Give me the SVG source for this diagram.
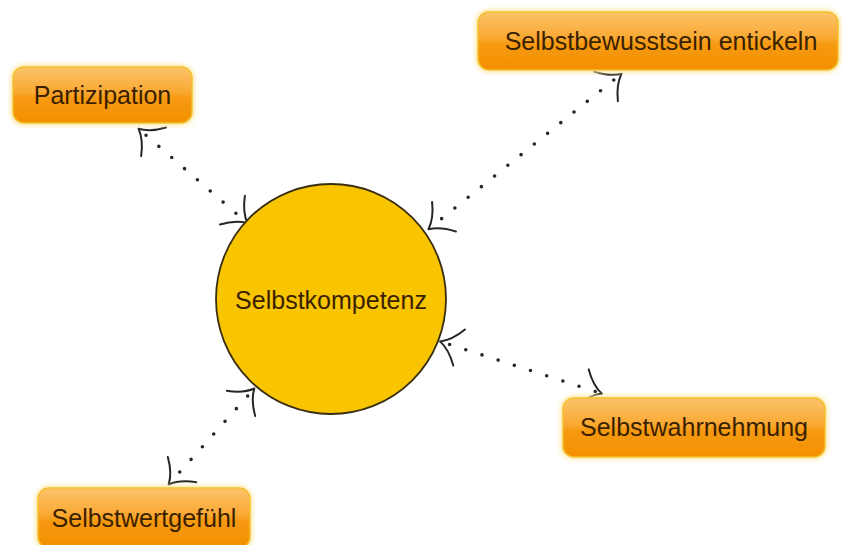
<svg xmlns="http://www.w3.org/2000/svg" width="842" height="545" viewBox="0 0 842 545">
  <defs>
    <linearGradient id="boxFill" x1="0" y1="0" x2="0" y2="1">
      <stop offset="0" stop-color="#fcc36a"/>
      <stop offset="0.45" stop-color="#f9a832"/>
      <stop offset="0.55" stop-color="#f69a12"/>
      <stop offset="1" stop-color="#f39000"/>
    </linearGradient>
    <filter id="glow" x="-10%" y="-20%" width="120%" height="140%">
      <feGaussianBlur stdDeviation="2"/>
    </filter>
    <!-- open, slightly curved arrowhead used at both ends of each link -->
    <marker id="head" markerUnits="userSpaceOnUse" viewBox="-22 -22 26 44" refX="0" refY="0"
            markerWidth="26" markerHeight="44" orient="auto-start-reverse">
      <path d="M2,0 Q-9,-5 -18,-19 M2,0 Q-9,5 -18,19" fill="none" stroke="#262626" stroke-width="2" stroke-linecap="round"/>
    </marker>
  </defs>
  <style>
    .box { fill: url(#boxFill); stroke: #f2c12e; stroke-width: 1.5; }
    .halo { fill: none; stroke: #fde7a0; stroke-width: 5; filter: url(#glow); }
    .label { font-family: "Liberation Sans", Arial, sans-serif; font-size: 25px; fill: #3a1f00; text-anchor: middle; }
    .link { fill: none; stroke: #262626; stroke-width: 3.6; stroke-linecap: round; stroke-dasharray: 0 17; stroke-dashoffset: 9; marker-start: url(#head); marker-end: url(#head); }
  </style>

  <rect width="842" height="545" fill="#ffffff"/>

  <g id="connectors">
    <path class="link" d="M140,130 L246,222"/>
    <path class="link" d="M620,75 L430,228"/>
    <path class="link" d="M442,342 L600,393"/>
    <path class="link" d="M253,390 L170,483"/>
  </g>

  <g id="selbstkompetenz">
    <circle cx="331" cy="299" r="115" fill="#f9c400" stroke="#3a2e10" stroke-width="1.8"/>
    <text class="label" x="331" y="309">Selbstkompetenz</text>
  </g>

  <g id="partizipation">
    <rect class="halo" x="13" y="67" width="179" height="56" rx="11"/>
    <rect class="box" x="13" y="67" width="179" height="56" rx="11"/>
    <text class="label" x="102.5" y="104">Partizipation</text>
  </g>

  <g id="selbstbewusstsein">
    <rect class="halo" x="478" y="12" width="360" height="58" rx="11"/>
    <rect class="box" x="478" y="12" width="360" height="58" rx="11"/>
    <text class="label" x="661" y="50">Selbstbewusstsein entickeln</text>
  </g>

  <g id="selbstwahrnehmung">
    <rect class="halo" x="563" y="398" width="262" height="59" rx="11"/>
    <rect class="box" x="563" y="398" width="262" height="59" rx="11"/>
    <text class="label" x="694" y="436">Selbstwahrnehmung</text>
  </g>

  <g id="selbstwertgefuehl">
    <rect class="halo" x="38" y="488" width="212" height="60" rx="11"/>
    <rect class="box" x="38" y="488" width="212" height="60" rx="11"/>
    <text class="label" x="144" y="527">Selbstwertgefühl</text>
  </g>
</svg>
